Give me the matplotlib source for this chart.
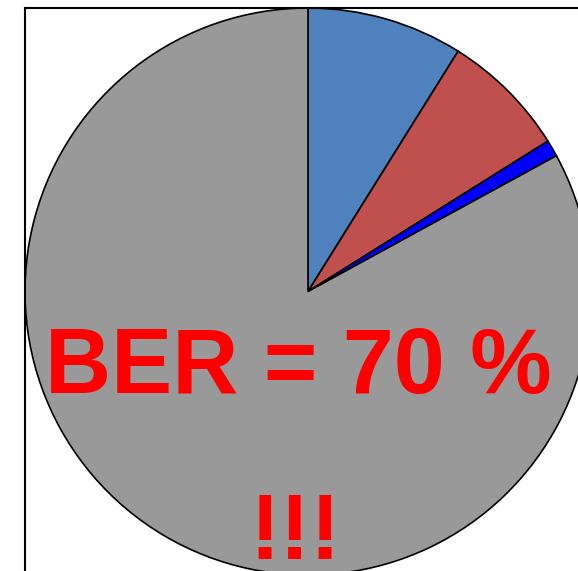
import numpy as np
import matplotlib.pyplot as plt

labels = ['A', 'B', 'C', 'D']
values = [8.9, 7.2, 0.95, 82.95]
colors = ['#4F81BD', '#C0504D', '#0000FF', '#999999']

W, H = 578, 571
fig = plt.figure(figsize=(W / 100, H / 100), dpi=100)

# axes is a bit bigger than the figure: pie gets cut at right and bottom
ax = fig.add_axes([25 / W, (571 - 575) / H, 566 / W, 567 / H])
ax.pie(values, colors=colors, startangle=90, counterclock=False,
       wedgeprops=dict(edgecolor='black', linewidth=1.2))
ax.set_xlim(-1, 1)
ax.set_ylim(-1, 1)
ax.set_aspect('auto')
ax.set_xticks([])
ax.set_yticks([])
ax.set_frame_on(True)
for s in ax.spines.values():
    s.set_visible(True)
    s.set_color('black')
    s.set_linewidth(1.5)

font = dict(family='Liberation Sans', weight='bold', color='red', fontsize=66)
fig.text(298 / W, 1 - 393 / H, 'BER = 70 %', ha='center', va='baseline', **font)
fig.text(295 / W, 1 - 559 / H, '!!!', ha='center', va='baseline', **font)

fig.savefig('out.png', dpi=100)
